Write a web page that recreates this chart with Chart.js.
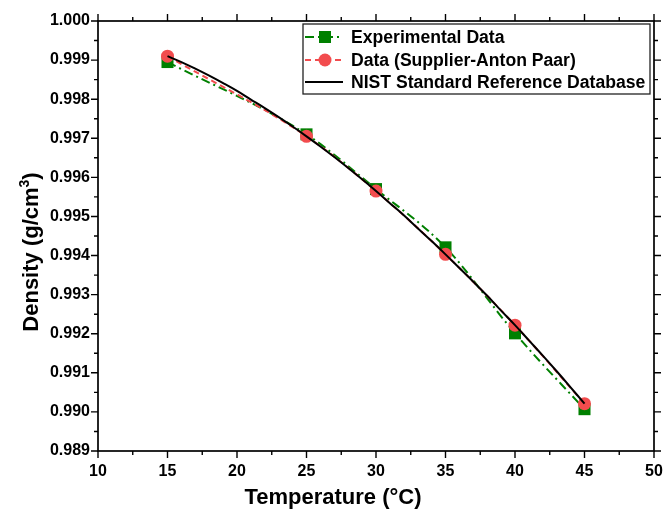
<!DOCTYPE html>
<html>
<head>
<meta charset="utf-8">
<script src="https://cdn.jsdelivr.net/npm/chart.js@4.4.0/dist/chart.umd.min.js"></script>
<style>
  body { margin: 0; background: #fff; }
  canvas { display: block; }
</style>
</head>
<body>
<canvas id="densityChart" width="664" height="511"></canvas>
<script>
// values
const temps = [15, 25, 30, 35, 40, 45];
const experimental = [0.99895, 0.99710, 0.99570, 0.99421, 0.99201, 0.99007];
const supplier = [0.99910, 0.99705, 0.99565, 0.99403, 0.99222, 0.99021];

const nistTemps = [15, 16, 17, 18, 19, 20, 21, 22, 23, 24, 25, 26, 27, 28, 29, 30,
  31, 32, 33, 34, 35, 36, 37, 38, 39, 40, 41, 42, 43, 44, 45];
const nistDensity = [0.99910, 0.99895, 0.99878, 0.99860, 0.99841, 0.99821, 0.99799,
  0.99777, 0.99754, 0.99730, 0.99705, 0.99679, 0.99652, 0.99624, 0.99595, 0.99565,
  0.99534, 0.99503, 0.99470, 0.99437, 0.99403, 0.99368, 0.99333, 0.99297, 0.99259,
  0.99222, 0.99183, 0.99144, 0.99104, 0.99063, 0.99021];

const xTicks = [10, 15, 20, 25, 30, 35, 40, 45, 50];
const yTicks = [0.989, 0.990, 0.991, 0.992, 0.993, 0.994, 0.995, 0.996, 0.997, 0.998, 0.999, 1.000];

const xTitle = "Temperature (°C)";
const yTitle = ["Density (g/cm", "3", ")"];

const GREEN = "rgb(0,128,0)";
const RED = "rgb(242,76,78)";
const FONT = "'Liberation Sans', Arial, sans-serif";

const toXY = (xs, ys) => xs.map((t, i) => ({ x: t, y: ys[i] }));

// box frame + outward major/minor ticks on all four sides
const frameTicks = {
  id: "frameTicks",
  afterDraw(chart) {
    const { ctx, chartArea: a, scales } = chart;
    const x = scales.x, y = scales.y;
    ctx.save();
    ctx.strokeStyle = "#000";
    ctx.lineWidth = 1.7;
    ctx.strokeRect(a.left, a.top, a.right - a.left, a.bottom - a.top);
    ctx.lineWidth = 1.4;
    ctx.beginPath();
    const xt = (v, len) => {
      const px = x.getPixelForValue(v);
      ctx.moveTo(px, a.bottom); ctx.lineTo(px, a.bottom + len);
      ctx.moveTo(px, a.top); ctx.lineTo(px, a.top - len);
    };
    const yt = (v, len) => {
      const py = y.getPixelForValue(v);
      ctx.moveTo(a.left, py); ctx.lineTo(a.left - len, py);
      ctx.moveTo(a.right, py); ctx.lineTo(a.right + len, py);
    };
    xTicks.forEach((v, i) => {
      xt(v, 7);
      if (i < xTicks.length - 1) xt((v + xTicks[i + 1]) / 2, 4);
    });
    yTicks.forEach((v, i) => {
      yt(v, 7);
      if (i < yTicks.length - 1) yt((v + yTicks[i + 1]) / 2, 4);
    });
    ctx.stroke();
    ctx.restore();
  }
};

// axis titles (the y title needs a superscript 3)
const axisTitles = {
  id: "axisTitles",
  afterDraw(chart) {
    const ctx = chart.ctx;
    ctx.save();
    ctx.fillStyle = "#000";
    ctx.textBaseline = "alphabetic";
    ctx.font = "bold 22px " + FONT;
    ctx.textAlign = "center";
    ctx.fillText(xTitle, 333, 504);

    ctx.translate(38, 252);
    ctx.rotate(-Math.PI / 2);
    ctx.textAlign = "left";
    const w1 = ctx.measureText(yTitle[0]).width;
    const w3 = ctx.measureText(yTitle[2]).width;
    ctx.font = "bold 14px " + FONT;
    const w2 = ctx.measureText(yTitle[1]).width;
    let sx = -(w1 + w2 + w3) / 2;
    ctx.font = "bold 22px " + FONT;
    ctx.fillText(yTitle[0], sx, 0);
    sx += w1;
    ctx.font = "bold 14px " + FONT;
    ctx.fillText(yTitle[1], sx, -9);
    sx += w2;
    ctx.font = "bold 22px " + FONT;
    ctx.fillText(yTitle[2], sx, 0);
    ctx.restore();
  }
};

// framed legend in the upper right corner
const boxLegend = {
  id: "boxLegend",
  afterDraw(chart) {
    const ctx = chart.ctx;
    const left = 303, top = 24, right = 650, bottom = 94;
    const rows = [37, 60, 82];
    const sx0 = 305, sx1 = 343, mx = 325, tx = 351;
    ctx.save();
    ctx.fillStyle = "#fff";
    ctx.fillRect(left, top, right - left, bottom - top);
    ctx.strokeStyle = "#222";
    ctx.lineWidth = 1.3;
    ctx.strokeRect(left, top, right - left, bottom - top);
    const order = [2, 1, 0];
    order.forEach((di, r) => {
      const ds = chart.data.datasets[di];
      const ry = rows[r];
      ctx.save();
      ctx.strokeStyle = ds.borderColor;
      ctx.lineWidth = ds.borderWidth;
      ctx.setLineDash(ds.borderDash || []);
      ctx.beginPath();
      ctx.moveTo(sx0, ry); ctx.lineTo(sx1, ry);
      ctx.stroke();
      ctx.restore();
      if (ds.pointRadius > 0) {
        ctx.fillStyle = ds.pointBackgroundColor;
        ctx.beginPath();
        if (ds.pointStyle === "rect") {
          const s = Math.SQRT1_2 * ds.pointRadius;
          ctx.rect(mx - s, ry - s, 2 * s, 2 * s);
        } else {
          ctx.arc(mx, ry, ds.pointRadius, 0, Math.PI * 2);
        }
        ctx.fill();
      }
      ctx.fillStyle = "#000";
      ctx.font = "bold 17.6px " + FONT;
      ctx.textBaseline = "middle";
      ctx.textAlign = "left";
      ctx.fillText(ds.label, tx, ry + 1);
    });
    ctx.restore();
  }
};

new Chart(document.getElementById("densityChart").getContext("2d"), {
  type: "line",
  data: {
    datasets: [
      {
        label: "NIST Standard Reference Database",
        data: toXY(nistTemps, nistDensity),
        borderColor: "#000",
        borderWidth: 2,
        pointRadius: 0,
        tension: 0.4,
        order: 0,
      },
      {
        label: "Data (Supplier-Anton Paar)",
        data: toXY(temps, supplier),
        borderColor: RED,
        borderWidth: 2,
        borderDash: [6, 4],
        pointStyle: "circle",
        pointRadius: 6.5,
        pointBackgroundColor: RED,
        pointBorderWidth: 0,
        cubicInterpolationMode: "monotone",
        order: 1,
      },
      {
        label: "Experimental Data",
        data: toXY(temps, experimental),
        borderColor: GREEN,
        borderWidth: 2,
        borderDash: [9, 4, 2, 4],
        pointStyle: "rect",
        pointRadius: 8.5,
        pointBackgroundColor: GREEN,
        pointBorderWidth: 0,
        cubicInterpolationMode: "monotone",
        order: 2,
      },
    ],
  },
  options: {
    responsive: false,
    animation: false,
    layout: { padding: { top: 21, right: 10, left: 0, bottom: 0 } },
    plugins: {
      legend: { display: false },
      tooltip: { enabled: false },
    },
    scales: {
      x: {
        type: "linear",
        position: "bottom",
        min: 10,
        max: 50,
        afterBuildTicks: (scale) => { scale.ticks = xTicks.map((v) => ({ value: v })); },
        afterFit: (scale) => {
          scale.height = 60;
          scale.paddingLeft = 0;
          scale.paddingRight = 0;
        },
        ticks: {
          color: "#000",
          padding: 11,
          maxRotation: 0,
          font: { family: FONT, size: 16, weight: "bold" },
        },
        grid: { display: false, drawTicks: false },
        border: { display: false },
      },
      y: {
        type: "linear",
        min: 0.989,
        max: 1.0,
        afterBuildTicks: (scale) => { scale.ticks = yTicks.map((v) => ({ value: v })); },
        afterFit: (scale) => {
          scale.width = 98;
          scale.paddingTop = 0;
          scale.paddingBottom = 0;
        },
        ticks: {
          color: "#000",
          padding: 8,
          callback: (v) => Number(v).toFixed(3),
          font: { family: FONT, size: 16, weight: "bold" },
        },
        grid: { display: false, drawTicks: false },
        border: { display: false },
      },
    },
  },
  plugins: [frameTicks, axisTitles, boxLegend],
});
</script>
</body>
</html>
